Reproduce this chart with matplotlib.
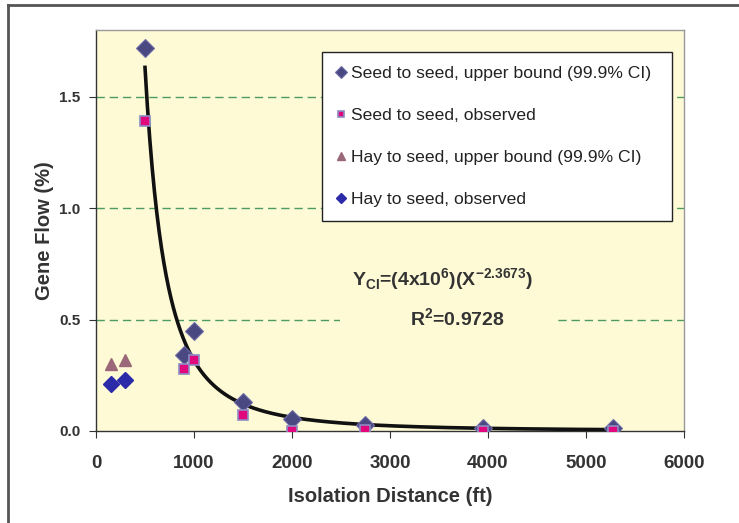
import numpy as np
import matplotlib
matplotlib.use("Agg")
import matplotlib.pyplot as plt
from matplotlib.lines import Line2D

plt.rcParams['font.family'] = ['Liberation Sans', 'DejaVu Sans']

# Data
seed_x = [500, 900, 1000, 1500, 2000, 2750, 3950, 5280]
seed_upper = [1.72, 0.34, 0.45, 0.13, 0.055, 0.025, 0.012, 0.012]
seed_obs = [1.39, 0.28, 0.32, 0.07, 0.0, 0.005, 0.0, 0.0]
hay_x = [150, 300]
hay_upper = [0.30, 0.32]
hay_obs = [0.21, 0.23]

# Trendline equation shown in the chart: Y = 4e6 * X^-2.3673
fit_coef = 4e6
fit_exp = -2.3673
fit_range = (500, 5300)

labels = ["Seed to seed, upper bound (99.9% CI)",
          "Seed to seed, observed",
          "Hay to seed, upper bound (99.9% CI)",
          "Hay to seed, observed"]
xticks = [0, 1000, 2000, 3000, 4000, 5000, 6000]
yticks = [0.0, 0.5, 1.0, 1.5]

fig = plt.figure(figsize=(7.39, 5.23), dpi=100)
fig.patch.set_facecolor('white')
ax = fig.add_axes([96/739, 1-431/523, 588/739, 401/523])
bg = '#FEFAD6'
ax.set_facecolor(bg)

# figure border lines (left & top)
fig.add_artist(Line2D([8/739, 8/739], [0, 1-5/523], transform=fig.transFigure, color='#555555', lw=2))
fig.add_artist(Line2D([8/739, 1], [1-5/523, 1-5/523], transform=fig.transFigure, color='#555555', lw=2))

ax.set_xlim(0, 6000)
ax.set_ylim(0, 1.8)
ax.set_xticks(xticks)
ax.set_yticks(yticks)
ax.set_yticklabels([f"{v:.1f}" for v in yticks])
for y in yticks[1:]:
    ax.axhline(y, color='#4E9A63', lw=1.0, dashes=(6, 3.5), zorder=1)

xf = np.linspace(fit_range[0], fit_range[1], 400)
ax.plot(xf, fit_coef * xf ** fit_exp, color='#111111', lw=2.6, zorder=3)

h1, = ax.plot(seed_x, seed_upper, 'D', color='#4A4880', mec='#6E6CA8', mew=0.8, ms=9, ls='none', zorder=4, label=labels[0])
h2, = ax.plot(seed_x, seed_obs, 's', color='#E0087C', mec='#8C8CC4', mew=1.2, ms=7, ls='none', zorder=5, label=labels[1])
h3, = ax.plot(hay_x, hay_upper, '^', color='#9A6878', mec='#9A6878', ms=9, ls='none', zorder=4, label=labels[2])
h4, = ax.plot(hay_x, hay_obs, 'D', color='#2B2BAA', mec='#2B2BAA', ms=8, ls='none', zorder=4, label=labels[3])

leg = ax.legend(handles=[h1, h2, h3, h4], loc='upper left',
                bbox_to_anchor=(0.384, 0.526, 0.596, 0.419), mode='expand',
                fontsize=12.6, labelspacing=1.52, borderpad=0.8,
                handlelength=0.6, handletextpad=0.25, markerscale=0.7,
                frameon=True, fancybox=False, framealpha=1, borderaxespad=0,
                labelcolor='#222222')
leg.get_frame().set_edgecolor('#222222')
leg.get_frame().set_linewidth(1.0)
leg.set_zorder(10)

ax.text((442-96)/588, (431-280)/401, r'Y$_{\mathregular{CI}}$=(4x10$^{\mathregular{6}}$)(X$^{\mathregular{-2.3673}}$)',
        transform=ax.transAxes, ha='center', va='center', fontsize=14,
        fontweight='bold', color='#333333', zorder=6)
ax.text((457-96)/588, (431-319)/401, r'R$^{\mathregular{2}}$=0.9728',
        transform=ax.transAxes, ha='center', va='center', fontsize=14,
        fontweight='bold', color='#333333', zorder=6)
# gap in the gridline behind the annotation
ax.fill_between([(340-96)/588*6000, (555-96)/588*6000], 0.47, 0.53, color=bg, zorder=2, lw=0)

for s in ['left', 'bottom']:
    ax.spines[s].set_color('#333333')
    ax.spines[s].set_linewidth(1.0)
for s in ['right', 'top']:
    ax.spines[s].set_color('#999999')
    ax.spines[s].set_linewidth(1.0)

ax.tick_params(axis='both', direction='out', length=5, color='#333333', labelcolor='#333333')
ax.tick_params(axis='x', labelsize=13.5, pad=12)
ax.tick_params(axis='y', labelsize=11, pad=6)
for t in ax.get_xticklabels() + ax.get_yticklabels():
    t.set_fontweight('bold')

ax.set_xlabel('Isolation Distance (ft)', fontsize=14.5, fontweight='bold', color='#333333', labelpad=11)
ax.set_ylabel('Gene Flow (%)', fontsize=14.5, fontweight='bold', color='#333333', labelpad=4)

fig.savefig('out.png', dpi=100)
